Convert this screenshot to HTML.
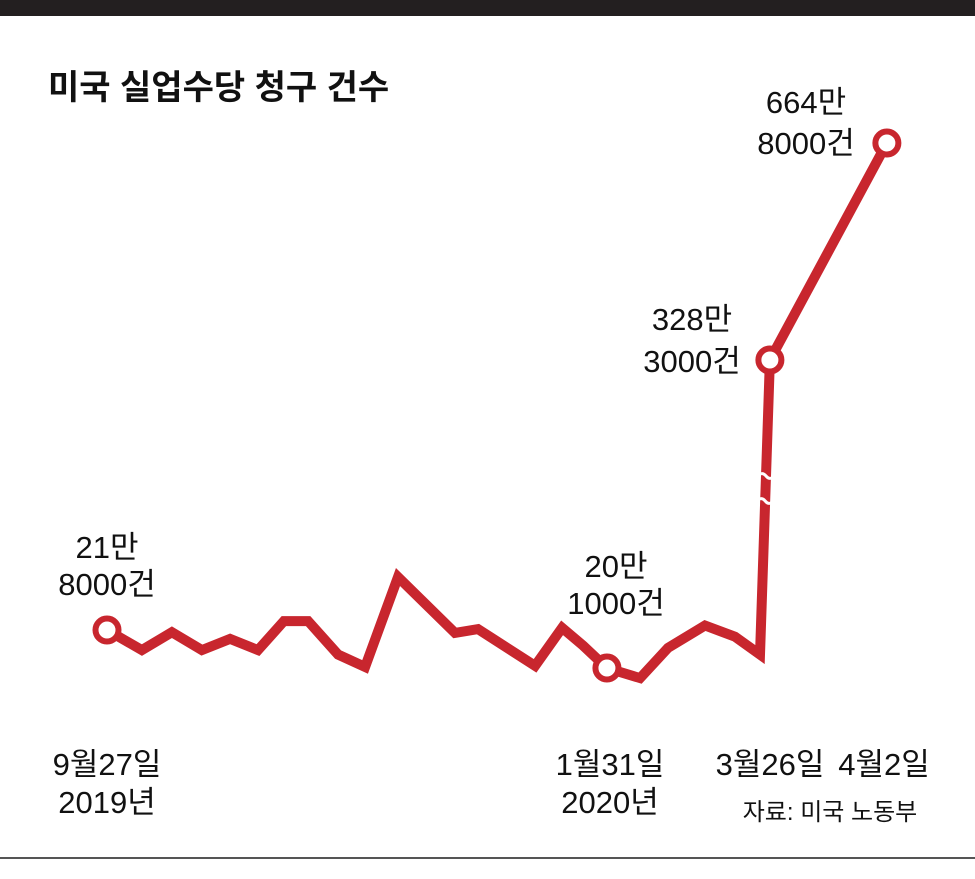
<!DOCTYPE html>
<html><head><meta charset="utf-8">
<style>
body{margin:0;background:#fff;}
svg text{font-family:"Liberation Sans","Noto Sans CJK KR",sans-serif;}
</style></head>
<body>
<svg id="c" width="975" height="874" viewBox="0 0 975 874">
<rect x="0" y="0" width="975" height="16" fill="#231f20"/>
<text x="48" y="99" font-size="34" font-weight="bold" fill="#111">미국 실업수당 청구 건수</text>
<line x1="0" y1="858" x2="975" y2="858" stroke="#555" stroke-width="2"/>
<g id="plot"></g>
<g font-size="31" fill="#111" text-anchor="middle">
<text x="107" y="558">21만</text>
<text x="107" y="595">8000건</text>
<text x="616" y="577">20만</text>
<text x="616" y="614">1000건</text>
<text x="692" y="330">328만</text>
<text x="692" y="372">3000건</text>
<text x="806" y="113">664만</text>
<text x="806" y="154">8000건</text>
<text x="107" y="775">9월27일</text>
<text x="107" y="813">2019년</text>
<text x="610" y="775">1월31일</text>
<text x="610" y="813">2020년</text>
<text x="770" y="775">3월26일</text>
<text x="884" y="775">4월2일</text>
<text x="830" y="820" font-size="24">자료: 미국 노동부</text>
</g>
</svg>
<script>
// week positions (axis broken near the end)
const weeks = [0,1.2,2.23,3.26,4.23,5.19,6.08,6.91,7.94,8.87,10,11.96,12.75,14.71,15.64,16.36,17.18,18.32,19.28,20.55,21.58,22.44,22.78,26.8];
// claims in thousands
const claims = [218,209,217,209,214,209,222,222,207,201.5,241.7,216.7,218.4,202,219,211,201,196.5,210,220,215,207,3283,6648];
const marked = [0,16,22,23];

function xs(w){return 107 + w*29.1;}
function ys(v){return v<1000 ? 630-(v-218)*2.235 : 360-(v-3283)*0.0645;}

const g=document.getElementById('plot');
const ns='http://www.w3.org/2000/svg';
let d='';
for(let i=0;i<claims.length;i++){d+=(i?'L':'M')+xs(weeks[i]).toFixed(1)+','+ys(claims[i]).toFixed(1);}
const p=document.createElementNS(ns,'path');
p.setAttribute('d',d);p.setAttribute('fill','none');p.setAttribute('stroke','#c8262e');
p.setAttribute('stroke-width','10');p.setAttribute('stroke-linejoin','miter');


g.appendChild(p);
// break marks
const x1=xs(weeks[21]),x2=xs(weeks[22]),y1=ys(claims[21]),y2=ys(claims[22]);
[475,500].forEach((yy)=>{
  const t=(y1-yy)/(y1-y2); const cx=x1+(x2-x1)*t;
  const b=document.createElementNS(ns,'path');
  b.setAttribute('d',`M${cx-10},${yy+4} q5,-9 10,-3 q5,6 10,-3`);
  b.setAttribute('fill','none');b.setAttribute('stroke','#fff');b.setAttribute('stroke-width','3');
  
  
  g.appendChild(b);
});
marked.forEach(i=>{
  const c=document.createElementNS(ns,'circle');
  c.setAttribute('cx',xs(weeks[i]));c.setAttribute('cy',ys(claims[i]));c.setAttribute('r','11.5');
  c.setAttribute('fill','#fff');c.setAttribute('stroke','#c8262e');c.setAttribute('stroke-width','6');
  
  
  g.appendChild(c);
});
</script>
</body></html>
